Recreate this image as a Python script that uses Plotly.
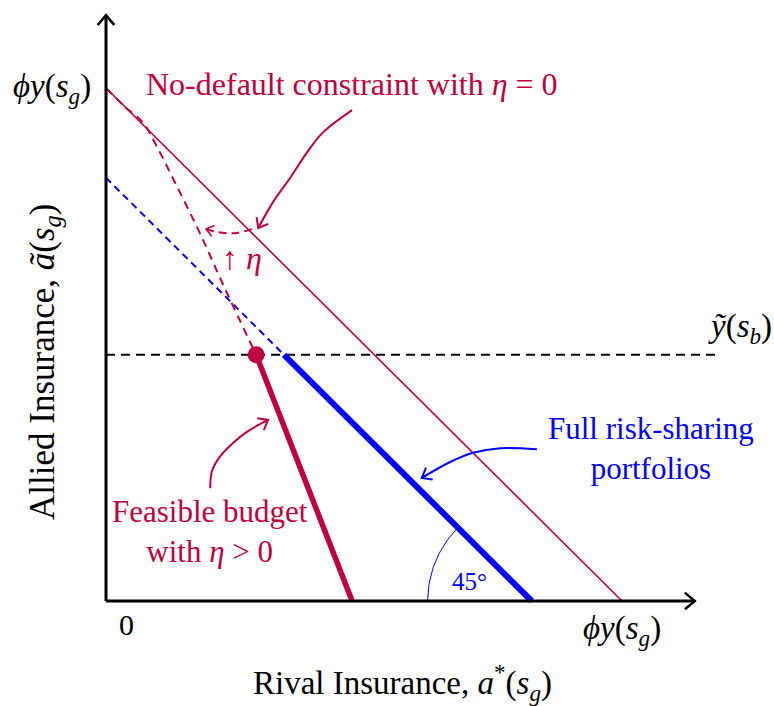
import math
import plotly.graph_objects as go

# ---------------- data (model units; phi*y(s_g) = 10) ----------------
PHI_Y = 10.0                 # phi y(s_g) on both axes
Y_TILDE_B = 4.8              # y~(s_b) horizontal level
FULL_RS = 8.25               # intercept of full risk-sharing budget (45 deg)
FEAS_TOP_X = 2.91            # feasible budget kink (dot) x
FEAS_BOTTOM_X = 4.77         # feasible budget x-intercept

# dashed no-default curve with eta>0
curve_x = [0.0, 0.37, 0.72, 0.99, 1.38, 1.82, 2.30, 2.91]
curve_y = [10.0, 9.63, 9.32, 8.85, 8.07, 7.17, 6.10, 4.80]

# eta shift arc (arrow)
eta_x = [2.83, 2.50, 2.17, 1.94]
eta_y = [7.25, 7.17, 7.19, 7.25]

# annotation arrows
nd_arrow_x = [4.77, 4.21, 3.90, 3.57, 3.24, 2.95]
nd_arrow_y = [9.57, 9.14, 8.75, 8.25, 7.78, 7.27]
fb_arrow_x = [2.02, 2.05, 2.19, 2.44, 2.75, 3.14]
fb_arrow_y = [2.20, 2.52, 2.79, 3.06, 3.31, 3.53]
rs_arrow_x = [8.35, 7.64, 7.11, 6.67, 6.12]
rs_arrow_y = [2.96, 2.98, 2.89, 2.71, 2.40]

X_AXIS_END = 11.41
Y_AXIS_END = 11.42
HLINE_END = 11.9

# ---------------- layout / scale ----------------
W, H = 774, 706
OX, OY = 106, 601
SX, SY = 51.6, 51.3

CRIMSON = "#BF0040"
BLUE = "#0000FF"
FONT = "Liberation Serif"


def to_px(x, y):
    return OX + x * SX, OY - y * SY


def from_px(px, py):
    return (px - OX) / SX, (OY - py) / SY


def head(xs, ys, length=11, ang=38):
    """V-shaped arrow head at the end of a polyline (computed in pixel space)."""
    x1, y1 = to_px(xs[-2], ys[-2])
    x2, y2 = to_px(xs[-1], ys[-1])
    dx, dy = x2 - x1, y2 - y1
    n = math.hypot(dx, dy)
    dx, dy = dx / n, dy / n
    pts = []
    for s in (1, -1):
        a = math.radians(ang) * s
        rx = dx * math.cos(a) - dy * math.sin(a)
        ry = dx * math.sin(a) + dy * math.cos(a)
        pts.append(from_px(x2 - length * rx, y2 - length * ry))
    hx = [pts[0][0], xs[-1], pts[1][0]]
    hy = [pts[0][1], ys[-1], pts[1][1]]
    return hx, hy


fig = go.Figure()


def line(x, y, color, width, dash=None, shape="linear"):
    fig.add_trace(go.Scatter(x=x, y=y, mode="lines",
                             line=dict(color=color, width=width, dash=dash, shape=shape),
                             hoverinfo="skip", showlegend=False))


# horizontal dashed y~(s_b)
line([0, HLINE_END], [Y_TILDE_B, Y_TILDE_B], "black", 2, dash="9px,6px")

# no-default constraint eta = 0 (thin)
line([0, PHI_Y], [PHI_Y, 0], CRIMSON, 1.6)

# blue full risk-sharing
kink = FULL_RS - Y_TILDE_B
line([0, kink], [FULL_RS, Y_TILDE_B], BLUE, 2, dash="7px,5px")
line([kink, FULL_RS], [Y_TILDE_B, 0], BLUE, 6)

# crimson dashed curve
line(curve_x, curve_y, CRIMSON, 2, dash="8px,6px", shape="spline")

# eta shift arc
line(eta_x, eta_y, CRIMSON, 2, dash="8px,5px", shape="spline")
hx, hy = head(eta_x, eta_y, length=9)
line(hx, hy, CRIMSON, 1.6)

# feasible budget thick
line([FEAS_TOP_X, FEAS_BOTTOM_X], [Y_TILDE_B, 0], CRIMSON, 5.5)
fig.add_trace(go.Scatter(x=[FEAS_TOP_X], y=[Y_TILDE_B], mode="markers",
                         marker=dict(color=CRIMSON, size=17),
                         hoverinfo="skip", showlegend=False))

# annotation arrows
for ax_, ay_, col in [(nd_arrow_x, nd_arrow_y, CRIMSON),
                      (fb_arrow_x, fb_arrow_y, CRIMSON),
                      (rs_arrow_x, rs_arrow_y, BLUE)]:
    line(ax_, ay_, col, 2, shape="spline")
    hx, hy = head(ax_, ay_, length=11)
    line(hx, hy, col, 2)

# 45 degree arc
cx, cy = to_px(FULL_RS, 0)
R = 104
arc_x, arc_y = [], []
for i in range(31):
    t = math.radians(135 + 45 * i / 30)
    px_, py_ = cx + R * math.cos(t), cy - R * math.sin(t)
    ax2, ay2 = from_px(px_, py_)
    arc_x.append(ax2)
    arc_y.append(ay2)
line(arc_x, arc_y, BLUE, 1)

# axes with arrows
line([0, X_AXIS_END], [0, 0], "black", 3)
line([0, 0], [0, Y_AXIS_END], "black", 3)
hx, hy = head([0, X_AXIS_END], [0, 0], length=13, ang=40)
line(hx, hy, "black", 2.5)
hx, hy = head([0, 0], [0, Y_AXIS_END], length=13, ang=40)
line(hx, hy, "black", 2.5)

# ---------------- text ----------------
phi = "<i>ϕy</i>(<i>s<sub>g</sub></i>)"


def text(px_, py_, t, color="black", size=30, angle=0):
    x, y = from_px(px_, py_)
    fig.add_annotation(x=x, y=y, xref="x", yref="y", text=t, showarrow=False,
                       font=dict(family=FONT, size=size, color=color),
                       textangle=angle, xanchor="center", yanchor="middle")


text(52, 88, phi, size=33)
text(126, 624, "0", size=30)
text(622, 630, phi, size=33)
text(740, 328, "<i>ỹ</i>(<i>s<sub>b</sub></i>)", size=33)
text(352, 84, "No-default constraint with <i>η</i> = 0", CRIMSON, size=32)
text(242, 258, "↑ <i>η</i>", CRIMSON, size=32)
text(210, 531, "Feasible budget<br>with <i>η</i> > 0", CRIMSON, size=31)
text(651, 448, "Full risk-sharing<br>portfolios", BLUE, size=31)
text(469, 581, "45°", BLUE, size=25)
text(402, 682, "Rival Insurance, <i>a</i><sup>*</sup>(<i>s<sub>g</sub></i>)", size=33)
text(44, 362, "Allied Insurance, <i>ã</i>(<i>s<sub>g</sub></i>)", size=35, angle=-90)

fig.update_layout(
    width=W, height=H,
    margin=dict(l=0, r=0, t=0, b=0),
    paper_bgcolor="white", plot_bgcolor="white",
    xaxis=dict(range=[-OX / SX, (W - OX) / SX], visible=False, fixedrange=True),
    yaxis=dict(range=[-(H - OY) / SY, OY / SY], visible=False, fixedrange=True),
    font=dict(family=FONT),
)

fig.write_html("out.html")
